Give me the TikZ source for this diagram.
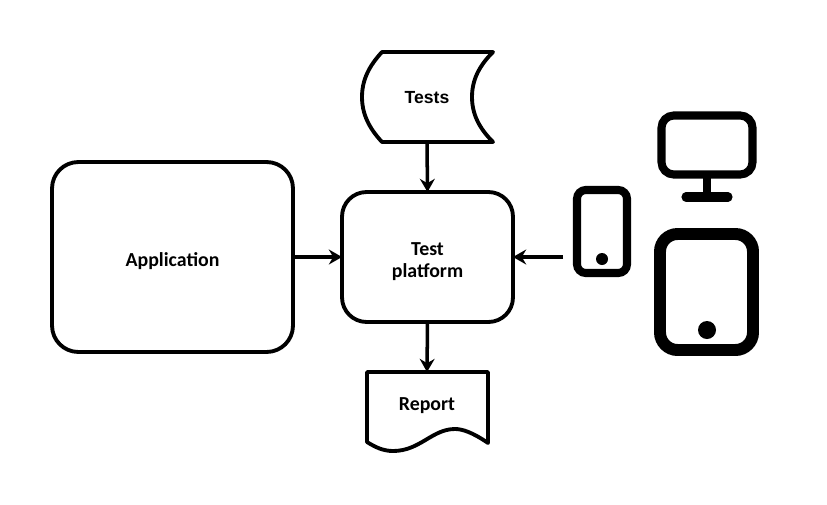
\documentclass[tikz,border=0pt]{standalone}
\usepackage{fontspec}
\setmainfont{Carlito}
\newfontfamily\tfont{Liberation Sans}
\usetikzlibrary{arrows.meta}
\begin{document}
\begin{tikzpicture}[x=0.02cm,y=-0.02cm,
  shapeline/.style={line width=2.2pt,draw=black,line join=round},
  flowbox/.style={shapeline,rounded corners=#1,outer sep=0pt,inner sep=0pt},
  ghost/.style={outer sep=0pt,inner sep=0pt},
  boxtext/.style={ghost,align=center,font=\fontsize{11.3}{12.6}\selectfont\bfseries},
  flowarrow/.style={line width=2pt,-{Stealth[length=7.5pt,width=8.5pt,inset=2.5pt]}},
  lightstroke/.style={line width=4.6pt,draw=black,rounded corners=#1},
  heavystroke/.style={line width=6.8pt,draw=black,rounded corners=#1}]
\useasboundingbox (0,0) rectangle (827,504);
\fill[white] (0,0) rectangle (827,504);
% Tests outline
\draw[shapeline] (382,52) -- (493,52) .. controls (479,66) and (472,80) .. (472,97) .. controls (472,114) and (479,128) .. (493,142) -- (382,142) .. controls (369,128) and (362,114) .. (362,97) .. controls (362,80) and (369,66) .. (382,52) -- cycle;
\node[ghost,minimum width=2.2cm,minimum height=1.8cm,font=\tfont\fontsize{10}{12}\selectfont\bfseries] (tests) at (427,97.5) {Tests};
% Report outline
\draw[shapeline] (367,372) -- (488,372) -- (488,443) .. controls (472,432) and (462,429) .. (455,429) .. controls (432,429) and (420,451) .. (393,451) .. controls (383,451) and (375,447) .. (367,442) -- cycle;
\node[ghost,minimum width=2.42cm,minimum height=1.4cm] (report) at (427,407) {};
\node[boxtext] (reportlabel) at (427,405.5) {Report};
% Boxes
\node[flowbox=15pt,minimum width=4.82cm,minimum height=3.8cm] (app) at (172.5,257) {};
\node[boxtext] (applabel) at (172.5,261) {Application};
\node[flowbox=14pt,minimum width=3.42cm,minimum height=2.6cm] (platform) at (427.5,257) {};
\node[boxtext] (platformlabel) at (427.5,261.5) {Test\\platform};
% Phone
\draw[lightstroke=5pt] (577,190) rectangle (627,273);
\fill (602,259) circle (6);
% Monitor
\draw[lightstroke=7pt] (661.5,115.5) rectangle (752.5,174.5);
\draw[line width=4.6pt] (707,178) -- (707,197);
\draw[line width=5.2pt,line cap=round] (686,197) -- (728,197);
% Tablet
\draw[heavystroke=10pt] (660,234) rectangle (753,350);
\fill (707,330) circle (9);
% Connectors
\coordinate (devices) at (563,257);
\draw[flowarrow] (tests.south) -- (platform.north);
\draw[flowarrow] (app.east) -- (platform.west);
\draw[flowarrow] (devices) -- (platform.east);
\draw[flowarrow] (platform.south) -- (report.north);
\end{tikzpicture}
\end{document}
